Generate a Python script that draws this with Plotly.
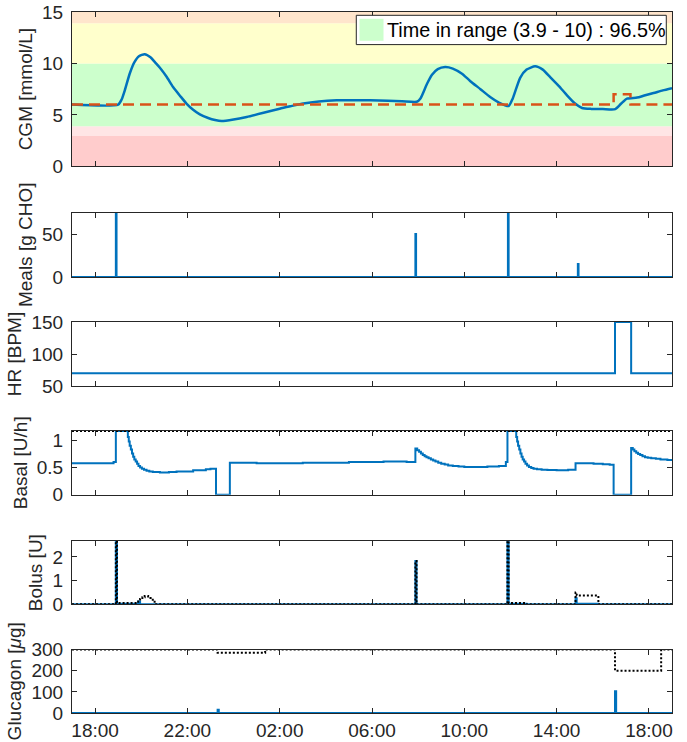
import pandas as pd
import plotly.graph_objects as go
from plotly.subplots import make_subplots

# ---------------- data (time in hours since 17:00 of day 1) ----------------
cgm_h = [0.0, 2.0, 2.15, 2.29, 2.5, 2.7, 2.9, 3.15, 3.4, 3.6, 3.8, 4.1, 4.38, 4.7, 4.96, 5.25,
         5.54, 5.9, 6.2, 6.48, 7.0, 7.57, 8.3, 9.0, 9.5, 10.02, 10.7, 11.47, 12.2, 12.92, 13.7,
         14.3, 14.94, 15.1, 15.38, 15.6, 15.85, 16.17, 16.5, 16.9, 17.25, 17.7, 18.12, 18.5,
         18.92, 19.1, 19.42, 19.7, 20.07, 20.4, 20.72, 21.1, 21.45, 21.8, 22.1, 22.5, 23.0,
         23.54, 23.8, 24.05, 24.49, 24.8, 25.2, 25.6, 26.0]
cgm_mmol = [6.0, 6.0, 6.5, 7.4, 9.0, 10.1, 10.7, 10.9, 10.6, 10.1, 9.6, 8.7, 7.7, 6.8, 6.1, 5.5,
            5.05, 4.7, 4.5, 4.4, 4.55, 4.8, 5.2, 5.6, 5.85, 6.1, 6.3, 6.41, 6.43, 6.41, 6.37,
            6.33, 6.28, 6.6, 8.0, 8.9, 9.45, 9.65, 9.5, 9.0, 8.3, 7.5, 6.74, 6.2,
            5.86, 6.6, 8.6, 9.4, 9.72, 9.4, 8.68, 7.8, 6.9, 6.1, 5.67, 5.58, 5.57,
            5.56, 6.1, 6.58, 6.68, 6.88, 7.12, 7.38, 7.6]

target_h = [0.0, 23.47, 24.2, 26.0]
target_mmol = [6.0, 7.0, 6.0, 6.0]

meal_h = [1.90, 14.88, 18.89, 21.92]
meal_g = [75, 50, 75, 15]

hr_h = [0.0, 23.53, 24.23, 26.0]
hr_bpm = [70, 150, 70, 70]

basal_h = [0.0, 1.80, 1.90, 2.36, 2.42, 2.46, 2.50, 2.55, 2.60, 2.65, 2.70, 2.76, 2.82, 2.88,
           2.95, 3.03, 3.12, 3.23, 3.35, 3.50, 3.81, 4.20, 4.53, 5.25, 5.80, 6.00, 6.24, 6.84,
           8.0, 10.0, 12.0, 13.5, 14.5, 14.88, 14.96, 15.04, 15.12, 15.20, 15.28, 15.36, 15.45,
           15.55, 15.65, 15.75, 15.87, 16.00, 16.15, 16.30, 16.50, 16.75, 17.00, 17.50, 18.00,
           18.50, 18.80, 18.87, 19.20, 19.25, 19.29, 19.33, 19.38, 19.43, 19.48, 19.53, 19.59,
           19.65, 19.72, 19.80, 19.90, 20.00, 20.15, 20.35, 20.60, 21.00, 21.50, 21.82, 22.20,
           22.60, 23.00, 23.30, 23.47, 24.23, 24.30, 24.37, 24.45, 24.53, 24.62, 24.72, 24.83,
           24.95, 25.10, 25.30, 25.50, 25.80, 26.0]
basal_uh = [0.58, 0.60, 1.17, 1.17, 1.06, 0.98, 0.90, 0.83, 0.76, 0.70, 0.65, 0.61, 0.57, 0.53,
            0.50, 0.48, 0.46, 0.44, 0.43, 0.42, 0.41, 0.42, 0.43, 0.45, 0.47, 0.48, 0.00, 0.59,
            0.58, 0.59, 0.60, 0.61, 0.60, 0.85, 0.82, 0.79, 0.76, 0.73, 0.71, 0.69, 0.67,
            0.65, 0.63, 0.61, 0.59, 0.57, 0.555, 0.54, 0.53, 0.52, 0.51, 0.51, 0.52,
            0.53, 0.60, 1.17, 1.17, 1.06, 0.98, 0.90, 0.83, 0.76, 0.70, 0.65, 0.61,
            0.57, 0.54, 0.51, 0.49, 0.48, 0.47, 0.46, 0.455, 0.45, 0.46, 0.58, 0.58,
            0.57, 0.56, 0.55, 0.00, 0.86, 0.83, 0.80, 0.77, 0.75, 0.73, 0.71, 0.69,
            0.68, 0.67, 0.66, 0.65, 0.64, 0.64]
basal_max_h = [0.0, 26.0]
basal_max_uh = [1.17, 1.17]

bolus_h = [0.0, 1.90, 1.95, 2.87, 2.95, 14.88, 14.93, 18.87, 18.92, 19.70, 21.82, 21.87, 22.80, 26.0]
bolus_u = [0.0, 2.67, 0.02, 0.12, 0.0, 1.83, 0.0, 2.67, 0.02, 0.0, 0.25, 0.02, 0.0, 0.0]
bolus_req_h = [0.0, 1.90, 1.95, 2.87, 2.95, 3.05, 3.15, 3.30, 3.40, 3.50, 3.58, 14.88, 14.93,
               18.87, 18.92, 19.68, 21.82, 21.87, 22.81, 26.0]
bolus_req_u = [0.0, 2.67, 0.05, 0.12, 0.22, 0.30, 0.35, 0.33, 0.27, 0.15, 0.0, 1.83, 0.0,
               2.67, 0.05, 0.0, 0.50, 0.37, 0.0, 0.0]

gluc_h = [0.0, 6.31, 6.36, 23.53, 23.58, 26.0]
gluc_ug = [0, 15, 0, 103, 0, 0]
gluc_max_h = [0.0, 6.31, 8.37, 23.53, 25.53, 26.0]
gluc_max_ug = [300, 285, 300, 200, 300, 300]

tir_label = "Time in range (3.9 - 10) : 96.5%"
band_lo = [0, 3.0, 3.9, 10.0, 13.9]
band_hi = [3.0, 3.9, 10.0, 13.9, 15.0]
band_col = ["#FFCCCC", "#FFE5E5", "#CCFFCC", "#FFFFCC", "#FFE5CC"]

ylabels = ["CGM [mmol/L]", "Meals [g CHO]", "HR [BPM]", "Basal [U/h]", "Bolus [U]",
           "Glucagon [<i>μ</i>g]"]
yranges = [[0, 15], [0, 75], [50, 150], [0, 1.175], [0, 2.67], [0, 300]]
ytickvals = [[0, 5, 10, 15], [0, 50], [50, 100, 150], [0, 0.5, 1], [0, 1, 2], [0, 100, 200, 300]]

# ---------------- helpers ----------------
base = pd.Timestamp("2024-01-01 17:00")


def t(hours):
    return base + pd.to_timedelta(pd.Series(hours, dtype=float), unit="h")


meal_x, meal_y = [0.0], [0.0]
for mh, mg in zip(meal_h, meal_g):
    meal_x += [mh, mh + 0.03]
    meal_y += [mg, 0.0]
meal_x.append(26.0)
meal_y.append(0.0)

BLUE = "#0072BD"
RED = "#D95319"
AX = "#262626"
FONT = "Liberation Sans, Arial, Helvetica, sans-serif"
FS = 19
TFS = 19

W, H = 687, 742
ML, MR, MT, MB = 72.3, 15.3, 11.7, 29.3
PH = H - MT - MB
panels_px = [(11.7, 166.0), (212.3, 276.7), (321.7, 385.7), (430.5, 494.5), (540.7, 604.0), (649.3, 712.7)]

fig = make_subplots(rows=6, cols=1, shared_xaxes=True, vertical_spacing=0.02)

fig.add_trace(go.Scatter(x=t(cgm_h), y=cgm_mmol, mode="lines", line=dict(color=BLUE, width=2.5, shape="spline", smoothing=0.6), showlegend=False), row=1, col=1)
fig.add_trace(go.Scatter(x=t(target_h), y=target_mmol, mode="lines", line=dict(color=RED, width=2.5, dash="11px,6px", shape="hv"), showlegend=False), row=1, col=1)
fig.add_trace(go.Scatter(x=t(meal_x), y=meal_y, mode="lines", line=dict(color=BLUE, width=2, shape="hv"), showlegend=False), row=2, col=1)
fig.add_trace(go.Scatter(x=t(hr_h), y=hr_bpm, mode="lines", line=dict(color=BLUE, width=2, shape="hv"), showlegend=False), row=3, col=1)
fig.add_trace(go.Scatter(x=t(basal_h), y=basal_uh, mode="lines", line=dict(color=BLUE, width=2, shape="hv"), showlegend=False), row=4, col=1)
fig.add_trace(go.Scatter(x=t(basal_max_h), y=basal_max_uh, mode="lines", line=dict(color="black", width=2, dash="2px,2px"), showlegend=False), row=4, col=1)
fig.add_trace(go.Scatter(x=t(bolus_h), y=bolus_u, mode="lines", line=dict(color=BLUE, width=2, shape="hv"), showlegend=False), row=5, col=1)
fig.add_trace(go.Scatter(x=t(bolus_req_h), y=bolus_req_u, mode="lines", line=dict(color="black", width=2, dash="2px,2px", shape="hv"), showlegend=False), row=5, col=1)
fig.add_trace(go.Scatter(x=t(gluc_h), y=gluc_ug, mode="lines", line=dict(color=BLUE, width=2, shape="hv"), showlegend=False), row=6, col=1)
fig.add_trace(go.Scatter(x=t(gluc_max_h), y=gluc_max_ug, mode="lines", line=dict(color="black", width=2, dash="2px,2px", shape="hv"), showlegend=False), row=6, col=1)

# glucose range bands
for lo, hi, c in zip(band_lo, band_hi, band_col):
    fig.add_shape(type="rect", xref="x domain", yref="y", x0=0, x1=1, y0=lo, y1=hi,
                  fillcolor=c, line=dict(width=0), layer="below")


def fx(px):
    return (px - ML) / (W - ML - MR)


def fy1(py):
    top, bot = panels_px[0]
    return (bot - py) / (bot - top)


# legend box (drawn in first panel)
fig.add_shape(type="rect", xref="x domain", yref="y domain", x0=fx(356.3), x1=fx(666.0),
              y0=fy1(44.3), y1=fy1(15.0), fillcolor="white", line=dict(color=AX, width=1), layer="above")
fig.add_shape(type="rect", xref="x domain", yref="y domain", x0=fx(359.5), x1=fx(383.5),
              y0=fy1(40.5), y1=fy1(18.5), fillcolor="#CCFFCC", line=dict(width=0), layer="above")
fig.add_annotation(xref="x domain", yref="y domain", x=fx(385.0), y=fy1(29.8), text=tir_label,
                   showarrow=False, xanchor="left", yanchor="middle",
                   font=dict(family=FONT, size=19.8, color="black"))

x0 = base
x1 = base + pd.Timedelta(hours=26)
for i in range(6):
    top, bot = panels_px[i]
    dom = [(H - MB - bot) / PH, (H - MB - top) / PH]
    key = "yaxis" if i == 0 else f"yaxis{i + 1}"
    xkey = "xaxis" if i == 0 else f"xaxis{i + 1}"
    fig.layout[key].update(
        domain=dom, range=yranges[i], tickvals=ytickvals[i], showgrid=False, zeroline=False,
        showline=True, linecolor=AX, linewidth=1, mirror="ticks", ticks="inside", ticklen=5,
        tickcolor=AX, tickfont=dict(family=FONT, size=FS, color=AX), ticklabelstandoff=4,
        title=dict(text=ylabels[i], font=dict(family=FONT, size=TFS, color=AX), standoff=4),
        automargin=False,
    )
    fig.layout[xkey].update(
        range=[x0, x1], type="date", tick0=base + pd.Timedelta(hours=1), dtick=4 * 3600000,
        tickformat="%H:%M", showgrid=False, zeroline=False, showline=True, linecolor=AX,
        linewidth=1, mirror="ticks", ticks="inside", ticklen=5, tickcolor=AX,
        showticklabels=(i == 5), tickfont=dict(family=FONT, size=FS, color=AX),
        automargin=False,
    )

fig.update_layout(
    width=W, height=H, margin=dict(l=ML, r=MR, t=MT, b=MB, autoexpand=False),
    paper_bgcolor="white", plot_bgcolor="white", showlegend=False,
    font=dict(family=FONT, size=FS, color=AX),
)

fig.write_html("out.html", config={"displayModeBar": False},
               post_script="document.body.style.margin='0';document.body.style.overflow='hidden';")
